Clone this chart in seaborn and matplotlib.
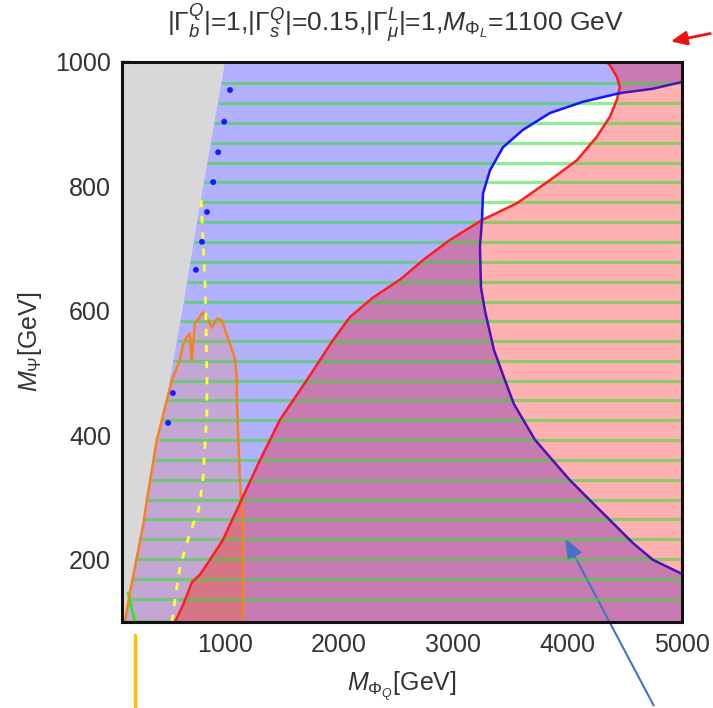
import numpy as np
import pandas as pd
import matplotlib
matplotlib.use("Agg")
import matplotlib.pyplot as plt
from matplotlib.patches import Polygon
from matplotlib.ticker import MultipleLocator
import seaborn as sns

# ---------------- data ----------------
# boundary of the grey (excluded) region: M_PhiQ vs M_Psi
gray_x = [125, 213, 431, 625, 808, 1000]
gray_y = [100, 200, 400, 600, 800, 1000]

# red contour
red_x = [564, 640, 712, 782, 870, 983, 1132, 1307, 1482, 1718, 1946, 2094, 2300, 2531,
         2750, 2969, 3250, 3556, 3844, 4080, 4255, 4369, 4430, 4456, 4430, 4369, 4340]
red_y = [100, 130, 164, 176, 200, 232, 291, 360, 425, 489, 553, 590, 622, 650,
         684, 714, 746, 773, 810, 842, 880, 912, 939, 960, 976, 995, 1000]

# blue contour (from top-right edge, round the bulge, to bottom-right edge)
blue_x = [5000, 4745, 4456, 4133, 3844, 3609, 3434, 3320, 3259, 3250, 3232, 3241,
          3276, 3355, 3450, 3530, 3713, 3844, 4019, 4220, 4395, 4570, 4745, 4981, 5000]
blue_y = [968, 957, 950, 936, 918, 891, 863, 826, 789, 746, 703, 638,
          600, 537, 489, 450, 393, 365, 328, 291, 259, 227, 200, 179, 177]

# orange contour
orange_x = [125, 169, 283, 318, 405, 537, 606, 633, 667, 693, 711, 737, 781, 807,
            843, 886, 930, 973, 1027, 1088, 1105, 1105, 1132, 1159, 1159]
orange_y = [100, 147, 253, 296, 393, 489, 521, 545, 558, 564, 521, 580, 590, 598,
            588, 573, 588, 585, 556, 524, 489, 457, 328, 253, 100]

# yellow dashed contour
yellow_x = [536, 606, 694, 770, 808, 843, 843, 834, 826, 808, 790]
yellow_y = [100, 188, 243, 280, 328, 436, 489, 597, 650, 714, 785]

# small blue marks along the grey boundary
dots_x = [1045, 994, 941, 898, 844, 800, 747, 545, 503]
dots_y = [955, 904, 855, 807, 759, 711, 666, 468, 420]

# short green contour at bottom left
green_seg_x = [153, 213, 550]
green_seg_y = [147, 100, 100]

# horizontal green hatch lines
green_y = [137, 169, 201, 233, 265, 296, 328, 360, 392, 424, 456, 488, 520, 551,
           583, 615, 647, 679, 711, 743, 775, 807, 838, 870, 902, 934, 966]

x_ticks = [1000, 2000, 3000, 4000, 5000]
y_ticks = [200, 400, 600, 800, 1000]
x_lim = (100, 5000)
y_lim = (100, 1000)

title = (r"$|\Gamma_b^Q|$=1,$|\Gamma_s^Q|$=0.15,$|\Gamma_\mu^L|$=1,"
         r"$M_{\Phi_L}$=1100 GeV")
xlabel = r"$M_{\Phi_Q}$[GeV]"
ylabel = r"$M_\Psi$[GeV]"

# ---------------- styling ----------------
sns.set_theme(style="ticks")
plt.rcParams["font.family"] = ["Liberation Sans", "DejaVu Sans"]
plt.rcParams["mathtext.fontset"] = "custom"
plt.rcParams["mathtext.rm"] = "Liberation Sans"
plt.rcParams["mathtext.it"] = "Liberation Sans:italic"
plt.rcParams["mathtext.bf"] = "Liberation Sans:bold"

W, H = 713, 708
fig = plt.figure(figsize=(W / 100, H / 100), dpi=100)
ax = fig.add_axes([122 / W, (H - 622) / H, 560 / W, 560 / H])
ax.set_xlim(*x_lim)
ax.set_ylim(*y_lim)

c_gray = "#d8d8d8"
c_blue = "#b1b1ff"
c_pink = "#ffb1b1"
c_purple = "#c77bb1"
c_mauve = "#c3a6d3"
c_salmon = "#d67585"

x0, x1 = x_lim
y0, y1 = y_lim

# grey region
gray_poly = [(x0, y0)] + list(zip(gray_x, gray_y)) + [(x0, y1)]
ax.add_patch(Polygon(gray_poly, closed=True, fc=c_gray, ec="none", zorder=1))
# blue-allowed region (everything right of grey)
blue_poly = list(zip(gray_x, gray_y)) + [(x1, y1), (x1, y0)]
ax.add_patch(Polygon(blue_poly, closed=True, fc=c_blue, ec="none", zorder=1))
# overlap with red region -> purple
red_poly = list(zip(red_x, red_y)) + [(x1, y1), (x1, y0)]
p_purple = Polygon(red_poly, closed=True, fc=c_purple, ec="none", zorder=2)
ax.add_patch(p_purple)
# inside blue contour: white, and pink where red
p_inside = Polygon(list(zip(blue_x, blue_y)), closed=True, fc="white", ec="none", zorder=3)
ax.add_patch(p_inside)
p_pink = Polygon(red_poly, closed=True, fc=c_pink, ec="none", zorder=4)
ax.add_patch(p_pink)
p_pink.set_clip_path(p_inside)
# orange region
orange_poly = list(zip(orange_x, orange_y))
ax.add_patch(Polygon(orange_poly, closed=True, fc=c_mauve, ec="none", zorder=5))
p_sal = Polygon(orange_poly, closed=True, fc=c_salmon, ec="none", zorder=6)
ax.add_patch(p_sal)
p_sal.set_clip_path(p_purple)

# green hatch lines
gy = np.array(green_y, dtype=float)
ax.hlines(gy, xmin=np.interp(gy, gray_y, gray_x), xmax=x1, colors="#33dd33",
          alpha=0.55, lw=2.3, zorder=7)

# contours
sns.lineplot(x=green_seg_x, y=green_seg_y, sort=False, estimator=None,
             color="#22ee22", lw=2, ax=ax, zorder=8)
sns.lineplot(x=orange_x, y=orange_y, sort=False, estimator=None,
             color="#f5821f", lw=1.8, ax=ax, zorder=9)
sns.lineplot(x=red_x, y=red_y, sort=False, estimator=None,
             color="#ff1e1e", lw=1.8, ax=ax, zorder=10)
sns.lineplot(x=blue_x[:3], y=blue_y[:3], sort=False, estimator=None,
             color="#4a14b4", lw=1.8, ax=ax, zorder=10)
sns.lineplot(x=blue_x[2:10], y=blue_y[2:10], sort=False, estimator=None,
             color="#1414ff", lw=1.8, ax=ax, zorder=10)
sns.lineplot(x=blue_x[9:], y=blue_y[9:], sort=False, estimator=None,
             color="#4a14b4", lw=1.8, ax=ax, zorder=10)
ax.plot(yellow_x, yellow_y, color="#ffff33", lw=2.0, ls=(0, (2.6, 3.2)), zorder=11)
sns.scatterplot(x=dots_x, y=dots_y, marker="o", s=18, color="#1a1aff",
                edgecolor="none", ax=ax, zorder=12)

# axes styling
ax.set_xticks(x_ticks)
ax.set_yticks(y_ticks)
ax.xaxis.set_minor_locator(MultipleLocator(200))
ax.yaxis.set_minor_locator(MultipleLocator(50))
ax.tick_params(which="both", direction="in", top=False, right=False,
               colors="black", labelcolor="#333333", labelsize=18, zorder=20)
ax.tick_params(which="major", length=6, width=1.6, pad=8)
ax.tick_params(which="minor", length=3.5, width=1.2)
for s in ax.spines.values():
    s.set_linewidth(2.2)
    s.set_color("#111111")
    s.set_zorder(20)
ax.set_xlabel(xlabel, fontsize=18, color="#333333", labelpad=9)
ax.set_ylabel(ylabel, fontsize=18, color="#333333", labelpad=8)

fig.text(395 / W, 1 - 23 / H, title, ha="center", va="center",
         fontsize=19, color="#333333")

# annotations added on top of the screenshot
ax.annotate("", xy=(668, H - 42), xytext=(713, H - 33), xycoords="figure pixels",
            textcoords="figure pixels", annotation_clip=False,
            arrowprops=dict(arrowstyle="-|>,head_length=0.8,head_width=0.35",
                            color="#ee1111", lw=2))
ax.annotate("", xy=(564, H - 536), xytext=(655, 0), xycoords="figure pixels",
            textcoords="figure pixels", annotation_clip=False,
            arrowprops=dict(arrowstyle="-|>,head_length=1.0,head_width=0.4",
                            color="#4472c4", lw=1.5))
fig.add_artist(plt.Line2D([135 / W, 135 / W], [1 - 635 / H, 1 - 707 / H],
                          transform=fig.transFigure, color="#ffc000", lw=2.5))

fig.savefig("out.png", dpi=100)
